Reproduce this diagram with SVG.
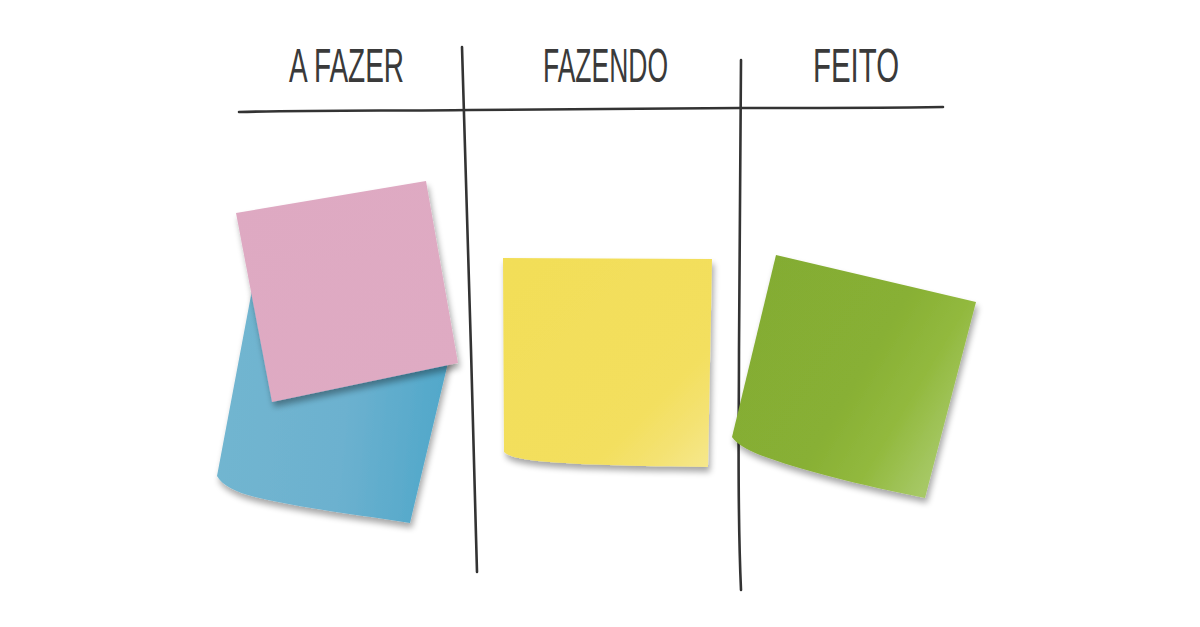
<svg xmlns="http://www.w3.org/2000/svg" width="1200" height="627" viewBox="0 0 1200 627">
<style>
.hdr{font-family:"Liberation Sans",sans-serif;font-size:48px;fill:#3a3a3a;text-anchor:start}
.ln{fill:none;stroke:#333;stroke-width:2.6;stroke-linecap:round;stroke-linejoin:round}
</style>
<defs>
<filter id="sh" x="-20%" y="-20%" width="140%" height="150%">
<feGaussianBlur in="SourceAlpha" stdDeviation="3"/>
<feOffset dx="2" dy="5" result="b"/>
<feComponentTransfer><feFuncA type="linear" slope="0.35"/></feComponentTransfer>
<feMerge><feMergeNode/><feMergeNode in="SourceGraphic"/></feMerge>
</filter>
<linearGradient id="gBlue" x1="0" y1="0" x2="1" y2="0.1">
<stop offset="0" stop-color="#72b6d0"/><stop offset="0.6" stop-color="#6cb1cf"/><stop offset="1" stop-color="#52a8ca"/>
</linearGradient>
<linearGradient id="gPink" x1="0" y1="0" x2="1" y2="1">
<stop offset="0" stop-color="#dea9c2"/><stop offset="1" stop-color="#dfabc3"/>
</linearGradient>
<linearGradient id="gYel" x1="0" y1="0" x2="1" y2="1">
<stop offset="0" stop-color="#f2de58"/><stop offset="0.7" stop-color="#f3df5e"/><stop offset="0.85" stop-color="#f4e272"/><stop offset="1" stop-color="#f6e88e"/>
</linearGradient>
<linearGradient id="gGrn" x1="0" y1="0" x2="1" y2="0.6">
<stop offset="0" stop-color="#82ab33"/><stop offset="0.6" stop-color="#88b034"/><stop offset="0.8" stop-color="#92b93e"/><stop offset="1" stop-color="#a6c865"/>
</linearGradient>
</defs>
<rect width="1200" height="627" fill="#fff"/>
<g id="board">
<path class="ln" d="M239 112 C320 110 400 111 470 110 C560 109 650 109 740 108 C820 108 880 108 943 107"/>
<path class="ln" d="M462 47 C465 150 468 250 471 350 C473 430 475 500 477 572"/>
<path class="ln" d="M741 60 C740 150 739 250 739 350 C739 430 737 500 741 590"/>
</g>
<g id="headers">
<text class="hdr" x="289" y="82" textLength="115" lengthAdjust="spacingAndGlyphs">A FAZER</text>
<text class="hdr" x="543" y="82" textLength="125" lengthAdjust="spacingAndGlyphs">FAZENDO</text>
<text class="hdr" x="813" y="82" textLength="86" lengthAdjust="spacingAndGlyphs">FEITO</text>
</g>
<g id="note-blue" filter="url(#sh)">
<path d="M252 290 L451 350 L410 523 C360 515 300 508 255 497 C235 492 222 485 217 476 Z" fill="url(#gBlue)"/>
</g>
<g id="note-pink" filter="url(#sh)">
<path d="M236 213 L426 181 L458 363 L272 402 Z" fill="url(#gPink)"/>
</g>
<g id="note-yellow" filter="url(#sh)">
<path d="M503 258 L712 259 L708 467 C640 466 570 465 530 460 C515 458 507 455 504 452 Z" fill="url(#gYel)"/>
</g>
<g id="note-green" filter="url(#sh)">
<path d="M776 255 L976 302 L925 498 C860 485 800 470 760 455 C745 449 736 443 732 437 Z" fill="url(#gGrn)"/>
</g>
</svg>
